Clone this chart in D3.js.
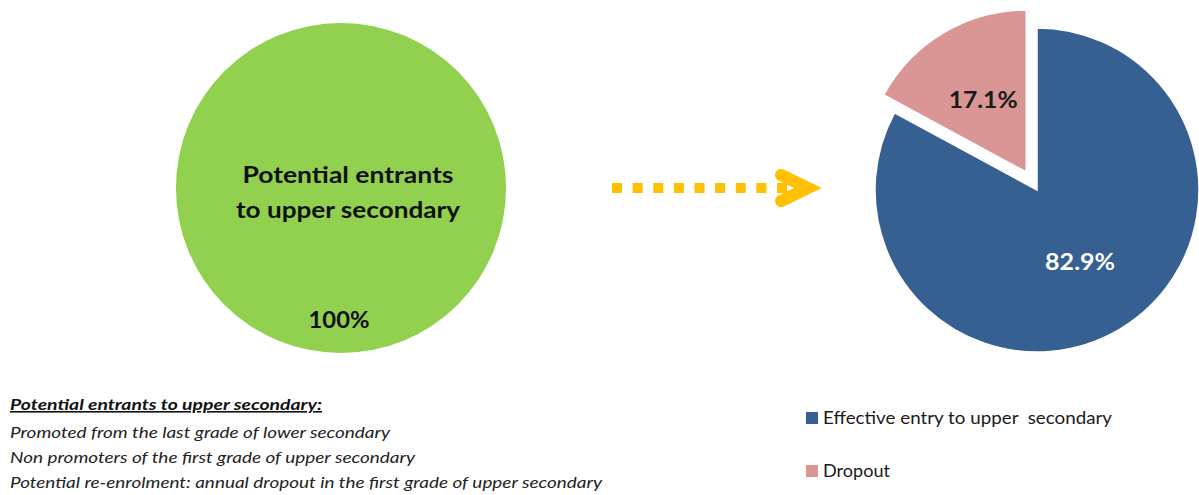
<!DOCTYPE html>
<html>
<head>
<meta charset="utf-8">
<script src="https://cdn.jsdelivr.net/npm/d3@7"></script>
<style>
  html, body { margin: 0; padding: 0; background: #fff; }
  svg { display: block; }
  text { font-family: Lato, "Open Sans", sans-serif; }
</style>
</head>
<body>
<svg id="chart" width="1199" height="495"></svg>
<script>
// Share of potential entrants (whole circle)
const potentialLabels = ["Potential entrants", "to upper secondary"];
const potentialValues = [100];

// Outcome split of the potential entrants
const outcomeCategories = ["Effective entry to upper  secondary", "Dropout"];
const outcomeValues = [82.9, 17.1];
const outcomeColors = ["#376092", "#D99694"];
const outcomeLabelColors = ["#ffffff", "#1a1a1a"];

// Footnote lines
const noteTitle = "Potential entrants to upper secondary:";
const noteLines = [
  "Promoted from the last grade of lower secondary",
  "Non promoters of the first grade of upper secondary",
  "Potential re-enrolment: annual dropout in the first grade of upper secondary"
];

const svg = d3.select("#chart");
const fmt = v => d3.format(".1f")(v) + "%";

// ---- Left: full circle of potential entrants ----
const leftC = { x: 341, y: 188 }, leftR = 165;
const pieFull = d3.pie().sort(null);
const arcFull = d3.arc().innerRadius(0).outerRadius(leftR);
const gLeft = svg.append("g").attr("transform", `translate(${leftC.x},${leftC.y})`);
gLeft.selectAll("path").data(pieFull(potentialValues)).join("path")
  .attr("d", arcFull).attr("fill", "#92D050");

const titleWidths = [211, 224];
gLeft.selectAll("text.title").data(potentialLabels).join("text")
  .attr("class", "title")
  .attr("x", 7).attr("y", (d, i) => -5 + i * 35)
  .attr("text-anchor", "middle")
  .attr("font-size", 22).attr("font-weight", 700).attr("fill", "#111")
  .attr("textLength", (d, i) => titleWidths[i]).attr("lengthAdjust", "spacingAndGlyphs")
  .text(d => d);

gLeft.append("text")
  .attr("x", -2).attr("y", 140)
  .attr("text-anchor", "middle")
  .attr("font-size", 22).attr("font-weight", 700).attr("fill", "#111")
  .attr("textLength", 61).attr("lengthAdjust", "spacingAndGlyphs")
  .text(potentialValues[0] + "%");

// ---- Arrow: dotted shaft + chevron ----
const arrowX = d3.scaleLinear().domain([0, 8]).range([612, 777]);
svg.append("g").selectAll("rect").data(d3.range(9)).join("rect")
  .attr("x", d => arrowX(d)).attr("y", 183)
  .attr("width", 10).attr("height", 10)
  .attr("fill", "#FFC000");
svg.append("path")
  .attr("d", d3.line()([[781, 175], [808, 188], [781, 201]]))
  .attr("fill", "none").attr("stroke", "#FFC000")
  .attr("stroke-width", 12).attr("stroke-linecap", "round").attr("stroke-linejoin", "miter");

// ---- Right: outcome pie with exploded dropout slice ----
const rightC = { x: 1037, y: 190 }, rightR = 162, explode = 21;
const pie = d3.pie().sort(null).startAngle(0).endAngle(2 * Math.PI);
const arc = d3.arc().innerRadius(0).outerRadius(rightR);
const slices = pie(outcomeValues).map((s, i) => {
  const mid = (s.startAngle + s.endAngle) / 2;
  const off = i === 1 ? explode : 0;
  return Object.assign(s, { i, dx: off * Math.sin(mid), dy: -off * Math.cos(mid) });
});
const gRight = svg.append("g").attr("transform", `translate(${rightC.x},${rightC.y})`);
const sg = gRight.selectAll("g.slice").data(slices).join("g")
  .attr("class", "slice")
  .attr("transform", d => `translate(${d.dx},${d.dy})`);
sg.append("path").attr("d", arc).attr("fill", d => outcomeColors[d.i])
  .attr("stroke", "#fff").attr("stroke-width", 1.5);
const labelWidths = [70, 69];
sg.append("text")
  .attr("transform", d => {
    const [cx, cy] = arc.centroid(d);
    return `translate(${cx * 1.04},${cy * 1.04 + 8})`;
  })
  .attr("text-anchor", "middle")
  .attr("font-size", 23).attr("font-weight", 700)
  .attr("fill", d => outcomeLabelColors[d.i])
  .attr("textLength", d => labelWidths[d.i]).attr("lengthAdjust", "spacingAndGlyphs")
  .text(d => fmt(d.data));

// ---- Legend ----
const legendY = d3.scalePoint().domain(outcomeCategories).range([418, 471]);
const legendWidths = [289, 67];
const lg = svg.append("g").selectAll("g").data(outcomeCategories).join("g")
  .attr("transform", d => `translate(806,${legendY(d)})`);
lg.append("rect").attr("x", 0).attr("y", -6).attr("width", 12).attr("height", 12)
  .attr("fill", (d, i) => outcomeColors[i]);
lg.append("text").attr("x", 17).attr("y", 6)
  .attr("font-size", 18).attr("fill", "#1a1a1a")
  .attr("textLength", (d, i) => legendWidths[i]).attr("lengthAdjust", "spacingAndGlyphs")
  .style("white-space", "pre")
  .text(d => d);

// ---- Footnote ----
const note = svg.append("g").attr("transform", "translate(10,0)");
note.append("text")
  .attr("x", 0).attr("y", 410)
  .attr("font-size", 16).attr("font-style", "italic").attr("font-weight", 700)
  .attr("text-decoration", "underline").attr("fill", "#111")
  .attr("textLength", 312).attr("lengthAdjust", "spacingAndGlyphs")
  .text(noteTitle);
const noteWidths = [380, 405, 592];
note.selectAll("text.line").data(noteLines).join("text")
  .attr("class", "line")
  .attr("x", 0).attr("y", (d, i) => 438 + i * 25)
  .attr("font-size", 16).attr("font-style", "italic").attr("fill", "#222")
  .attr("textLength", (d, i) => noteWidths[i]).attr("lengthAdjust", "spacingAndGlyphs")
  .text(d => d);
</script>
</body>
</html>
